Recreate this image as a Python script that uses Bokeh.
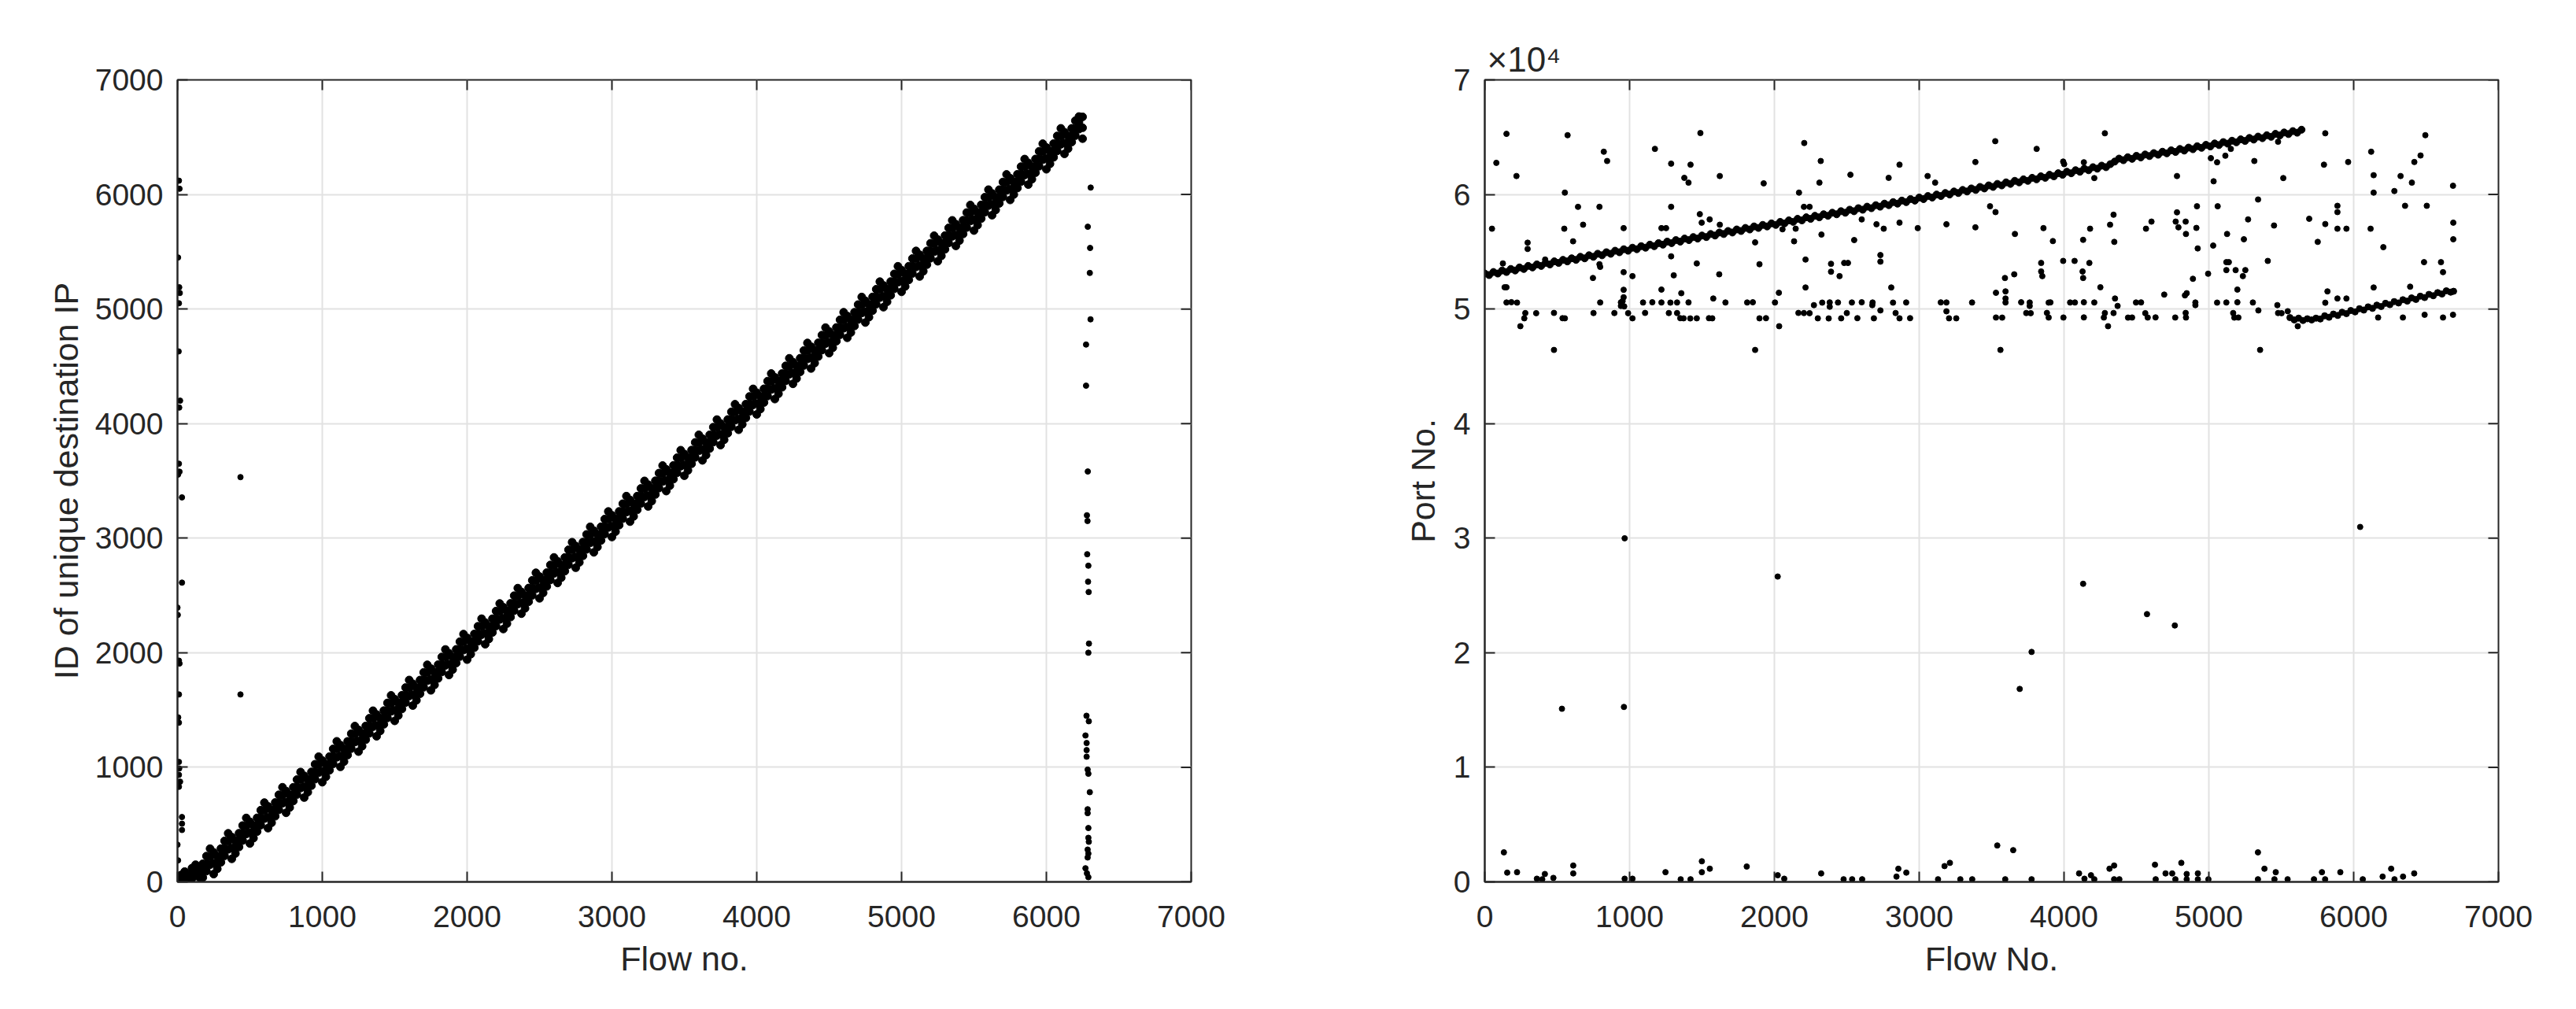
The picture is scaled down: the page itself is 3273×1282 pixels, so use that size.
import math
from bokeh.plotting import figure
from bokeh.layouts import row
from bokeh.models import Range1d, FixedTicker
from bokeh.embed import file_html
from bokeh.resources import INLINE

FONT = "Liberation Sans"
AX = "#262626"

# ---------------- data : left panel ----------------
x_ticks = [0, 1000, 2000, 3000, 4000, 5000, 6000, 7000]
ip_ticks = [0, 1000, 2000, 3000, 4000, 5000, 6000, 7000]

band_x = [25, 50, 75, 100, 125, 150, 175, 200, 225, 250, 275, 300, 325, 350, 375, 400, 425, 450, 475, 500,
          525, 550, 575, 600, 625, 650, 675, 700, 725, 750, 775, 800, 825, 850, 875, 900, 925, 950, 975, 1000,
          1025, 1050, 1075, 1100, 1125, 1150, 1175, 1200, 1225, 1250, 1275, 1300, 1325, 1350, 1375, 1400, 1425, 1450, 1475, 1500,
          1525, 1550, 1575, 1600, 1625, 1650, 1675, 1700, 1725, 1750, 1775, 1800, 1825, 1850, 1875, 1900, 1925, 1950, 1975, 2000,
          2025, 2050, 2075, 2100, 2125, 2150, 2175, 2200, 2225, 2250, 2275, 2300, 2325, 2350, 2375, 2400, 2425, 2450, 2475, 2500,
          2525, 2550, 2575, 2600, 2625, 2650, 2675, 2700, 2725, 2750, 2775, 2800, 2825, 2850, 2875, 2900, 2925, 2950, 2975, 3000,
          3025, 3050, 3075, 3100, 3125, 3150, 3175, 3200, 3225, 3250, 3275, 3300, 3325, 3350, 3375, 3400, 3425, 3450, 3475, 3500,
          3525, 3550, 3575, 3600, 3625, 3650, 3675, 3700, 3725, 3750, 3775, 3800, 3825, 3850, 3875, 3900, 3925, 3950, 3975, 4000,
          4025, 4050, 4075, 4100, 4125, 4150, 4175, 4200, 4225, 4250, 4275, 4300, 4325, 4350, 4375, 4400, 4425, 4450, 4475, 4500,
          4525, 4550, 4575, 4600, 4625, 4650, 4675, 4700, 4725, 4750, 4775, 4800, 4825, 4850, 4875, 4900, 4925, 4950, 4975, 5000,
          5025, 5050, 5075, 5100, 5125, 5150, 5175, 5200, 5225, 5250, 5275, 5300, 5325, 5350, 5375, 5400, 5425, 5450, 5475, 5500,
          5525, 5550, 5575, 5600, 5625, 5650, 5675, 5700, 5725, 5750, 5775, 5800, 5825, 5850, 5875, 5900, 5925, 5950, 5975, 6000,
          6025, 6050, 6075, 6100, 6125, 6150, 6175, 6200, 6225, 6250]

band_upper = [60, 90, 40, 120, 150, 120, 158, 225, 290, 258, 224, 291, 358, 424, 391, 358, 425, 492, 558, 525,
              492, 559, 626, 692, 659, 626, 693, 760, 826, 793, 759, 826, 893, 959, 926, 893, 960, 1027, 1093, 1060,
              1027, 1094, 1161, 1227, 1194, 1160, 1227, 1294, 1360, 1327, 1294, 1361, 1428, 1494, 1461, 1428, 1495, 1562, 1628, 1595,
              1562, 1629, 1696, 1762, 1729, 1695, 1762, 1829, 1895, 1862, 1829, 1896, 1963, 2029, 1996, 1963, 2030, 2097, 2163, 2130,
              2097, 2164, 2231, 2297, 2264, 2230, 2297, 2364, 2430, 2397, 2364, 2431, 2498, 2564, 2531, 2498, 2565, 2632, 2698, 2665,
              2632, 2699, 2766, 2832, 2799, 2765, 2832, 2899, 2965, 2932, 2899, 2966, 3033, 3099, 3066, 3033, 3100, 3167, 3233, 3200,
              3167, 3234, 3301, 3367, 3334, 3300, 3367, 3434, 3500, 3467, 3434, 3501, 3568, 3634, 3601, 3568, 3635, 3702, 3768, 3735,
              3702, 3769, 3836, 3902, 3869, 3835, 3902, 3969, 4035, 4002, 3969, 4036, 4103, 4169, 4136, 4103, 4170, 4237, 4303, 4270,
              4237, 4304, 4371, 4437, 4404, 4370, 4437, 4504, 4570, 4537, 4504, 4571, 4638, 4704, 4671, 4638, 4705, 4772, 4838, 4805,
              4772, 4839, 4906, 4972, 4939, 4905, 4972, 5039, 5105, 5072, 5039, 5106, 5173, 5239, 5206, 5173, 5240, 5307, 5373, 5340,
              5307, 5374, 5441, 5507, 5474, 5440, 5507, 5574, 5640, 5607, 5574, 5641, 5708, 5774, 5741, 5708, 5775, 5842, 5908, 5875,
              5842, 5909, 5976, 6042, 6009, 5975, 6042, 6109, 6175, 6142, 6109, 6176, 6243, 6309, 6276, 6243, 6310, 6377, 6443, 6410,
              6377, 6444, 6511, 6577, 6544, 6510, 6577, 6644, 6680, 6677]

band_mid = [35, 45, 30, 75, 105, 80, 98, 159, 220, 163, 169, 231, 292, 354, 296, 303, 365, 426, 488, 430,
            437, 499, 560, 622, 564, 571, 633, 694, 756, 698, 704, 766, 827, 889, 831, 838, 900, 961, 1023, 965,
            972, 1034, 1095, 1157, 1099, 1105, 1167, 1228, 1290, 1232, 1239, 1301, 1362, 1424, 1366, 1373, 1435, 1496, 1558, 1500,
            1507, 1569, 1630, 1692, 1634, 1640, 1702, 1763, 1825, 1767, 1774, 1836, 1897, 1959, 1901, 1908, 1970, 2031, 2093, 2035,
            2042, 2104, 2165, 2227, 2169, 2175, 2237, 2298, 2360, 2302, 2309, 2371, 2432, 2494, 2436, 2443, 2505, 2566, 2628, 2570,
            2577, 2639, 2700, 2762, 2704, 2710, 2772, 2833, 2895, 2837, 2844, 2906, 2967, 3029, 2971, 2978, 3040, 3101, 3163, 3105,
            3112, 3174, 3235, 3297, 3239, 3245, 3307, 3368, 3430, 3372, 3379, 3441, 3502, 3564, 3506, 3513, 3575, 3636, 3698, 3640,
            3647, 3709, 3770, 3832, 3774, 3780, 3842, 3903, 3965, 3907, 3914, 3976, 4037, 4099, 4041, 4048, 4110, 4171, 4233, 4175,
            4182, 4244, 4305, 4367, 4309, 4315, 4377, 4438, 4500, 4442, 4449, 4511, 4572, 4634, 4576, 4583, 4645, 4706, 4768, 4710,
            4717, 4779, 4840, 4902, 4844, 4850, 4912, 4973, 5035, 4977, 4984, 5046, 5107, 5169, 5111, 5118, 5180, 5241, 5303, 5245,
            5252, 5314, 5375, 5437, 5379, 5385, 5447, 5508, 5570, 5512, 5519, 5581, 5642, 5704, 5646, 5653, 5715, 5776, 5838, 5780,
            5787, 5849, 5910, 5972, 5914, 5920, 5982, 6043, 6105, 6047, 6054, 6116, 6177, 6239, 6181, 6188, 6250, 6311, 6373, 6315,
            6322, 6384, 6445, 6507, 6449, 6455, 6517, 6578, 6630, 6582]

band_lower = [10, 0, 20, 30, 60, 40, 38, 94, 150, 68, 114, 171, 227, 284, 201, 248, 305, 361, 418, 335,
              382, 439, 495, 552, 469, 516, 573, 629, 686, 603, 649, 706, 762, 819, 736, 783, 840, 896, 953, 870,
              917, 974, 1030, 1087, 1004, 1050, 1107, 1163, 1220, 1137, 1184, 1241, 1297, 1354, 1271, 1318, 1375, 1431, 1488, 1405,
              1452, 1509, 1565, 1622, 1539, 1585, 1642, 1698, 1755, 1672, 1719, 1776, 1832, 1889, 1806, 1853, 1910, 1966, 2023, 1940,
              1987, 2044, 2100, 2157, 2074, 2120, 2177, 2233, 2290, 2207, 2254, 2311, 2367, 2424, 2341, 2388, 2445, 2501, 2558, 2475,
              2522, 2579, 2635, 2692, 2609, 2655, 2712, 2768, 2825, 2742, 2789, 2846, 2902, 2959, 2876, 2923, 2980, 3036, 3093, 3010,
              3057, 3114, 3170, 3227, 3144, 3190, 3247, 3303, 3360, 3277, 3324, 3381, 3437, 3494, 3411, 3458, 3515, 3571, 3628, 3545,
              3592, 3649, 3705, 3762, 3679, 3725, 3782, 3838, 3895, 3812, 3859, 3916, 3972, 4029, 3946, 3993, 4050, 4106, 4163, 4080,
              4127, 4184, 4240, 4297, 4214, 4260, 4317, 4373, 4430, 4347, 4394, 4451, 4507, 4564, 4481, 4528, 4585, 4641, 4698, 4615,
              4662, 4719, 4775, 4832, 4749, 4795, 4852, 4908, 4965, 4882, 4929, 4986, 5042, 5099, 5016, 5063, 5120, 5176, 5233, 5150,
              5197, 5254, 5310, 5367, 5284, 5330, 5387, 5443, 5500, 5417, 5464, 5521, 5577, 5634, 5551, 5598, 5655, 5711, 5768, 5685,
              5732, 5789, 5845, 5902, 5819, 5865, 5922, 5978, 6035, 5952, 5999, 6056, 6112, 6169, 6086, 6133, 6190, 6246, 6303, 6220,
              6267, 6324, 6380, 6437, 6354, 6400, 6457, 6513, 6570, 6487]

ip_out_x = [10, 14, 4, 12, 16, 10, 8, 18, 12, 10, 14, 4, 31, 31, 0, 2, 10, 14, 10, 5, 10, 10, 12, 10, 18, 10,
            31, 31, 31, 0, 4, 435, 435,
            6306, 6286, 6302, 6300, 6305, 6274, 6274, 6286, 6280, 6284, 6282, 6290, 6288, 6292, 6294, 6290,
            6277, 6293, 6270, 6278, 6278, 6278, 6285, 6290, 6300, 6285, 6285, 6290, 6290, 6293, 6285, 6290, 6285,
            6270, 6280, 6290]
ip_out_y = [6120, 6050, 5450, 5190, 5140, 5050, 4630, 4200, 4140, 3650, 3580, 3555, 3356, 2612, 2394, 2330,
            1931, 1906, 1636, 1436, 1390, 1047, 990, 934, 875, 830, 566, 508, 453, 325, 188, 3533, 1636,
            6060, 5718, 5533, 5315, 4910, 4690, 4331, 3582, 3200, 3150, 2860, 2760, 2620, 2530, 2080, 2000,
            1450, 1402, 1278, 1212, 1150, 1093, 980, 944, 783, 634, 600, 470, 385, 350, 282, 247, 213,
            119, 75, 41]

# ---------------- data : right panel ----------------
port_ticks = [0, 10000, 20000, 30000, 40000, 50000, 60000, 70000]
port_tick_labels = ["0", "1", "2", "3", "4", "5", "6", "7"]

line1_x = [0, 30, 60, 90, 120, 150, 180, 210, 240, 270, 300, 330, 360, 390, 420, 450, 480, 510, 540, 570,
           600, 630, 660, 690, 720, 750, 780, 810, 840, 870, 900, 930, 960, 990, 1020, 1050, 1080, 1110, 1140, 1170,
           1200, 1230, 1260, 1290, 1320, 1350, 1380, 1410, 1440, 1470, 1500, 1530, 1560, 1590, 1620, 1650, 1680, 1710, 1740, 1770,
           1800, 1830, 1860, 1890, 1920, 1950, 1980, 2010, 2040, 2070, 2100, 2130, 2160, 2190, 2220, 2250, 2280, 2310, 2340, 2370,
           2400, 2430, 2460, 2490, 2520, 2550, 2580, 2610, 2640, 2670, 2700, 2730, 2760, 2790, 2820, 2850, 2880, 2910, 2940, 2970,
           3000, 3030, 3060, 3090, 3120, 3150, 3180, 3210, 3240, 3270, 3300, 3330, 3360, 3390, 3420, 3450, 3480, 3510, 3540, 3570,
           3600, 3630, 3660, 3690, 3720, 3750, 3780, 3810, 3840, 3870, 3900, 3930, 3960, 3990, 4020, 4050, 4080, 4110, 4140, 4170,
           4200, 4230, 4260, 4290, 4320, 4350, 4380, 4410, 4440, 4470, 4500, 4530, 4560, 4590, 4620, 4650, 4680, 4710, 4740, 4770,
           4800, 4830, 4860, 4890, 4920, 4950, 4980, 5010, 5040, 5070, 5100, 5130, 5160, 5190, 5220, 5250, 5280, 5310, 5340, 5370,
           5400, 5430, 5460, 5490, 5520, 5550, 5580, 5610, 5640]
line1_y = [53100, 52966, 53233, 53099, 53365, 53231, 53498, 53364, 53630, 53496, 53763, 53629, 53896, 53762, 54028, 53894,
           54161, 54027, 54293, 54159, 54426, 54292, 54559, 54425, 54691, 54557, 54824, 54690, 54956, 54822, 55089, 54955,
           55222, 55088, 55354, 55220, 55487, 55353, 55619, 55485, 55752, 55618, 55885, 55751, 56017, 55883, 56150, 56016,
           56282, 56148, 56415, 56281, 56548, 56414, 56680, 56546, 56813, 56679, 56945, 56811, 57078, 56944, 57211, 57077,
           57343, 57209, 57476, 57342, 57608, 57474, 57741, 57607, 57874, 57740, 58006, 57872, 58139, 58005, 58271, 58137,
           58404, 58270, 58537, 58403, 58669, 58535, 58802, 58668, 58934, 58800, 59067, 58933, 59200, 59066, 59332, 59198,
           59465, 59331, 59597, 59463, 59730, 59596, 59863, 59729, 59995, 59861, 60128, 59994, 60260, 60126, 60393, 60259,
           60526, 60392, 60658, 60524, 60791, 60657, 60923, 60789, 61056, 60922, 61189, 61055, 61321, 61187, 61454, 61320,
           61586, 61452, 61719, 61585, 61852, 61718, 61984, 61850, 62117, 61983, 62249, 62115, 62382, 62248, 62515, 62381,
           62647, 62870, 63130, 62990, 63250, 63110, 63370, 63230, 63490, 63350, 63610, 63470, 63730, 63590, 63850, 63710,
           63970, 63830, 64090, 63950, 64210, 64070, 64330, 64190, 64450, 64310, 64570, 64430, 64690, 64550, 64810, 64670,
           64930, 64790, 65050, 64910, 65170, 65030, 65290, 65150, 65410, 65270, 65530, 65390, 65650]

line2_x = [5560, 5590, 5620, 5650, 5680, 5710, 5740, 5770, 5800, 5830, 5860, 5890, 5920, 5950, 5980, 6010, 6040, 6070,
           6100, 6130, 6160, 6190, 6220, 6250, 6280, 6310, 6340, 6370, 6400, 6430, 6460, 6490, 6520, 6550, 6580, 6610,
           6640, 6670, 6690]
line2_y = [49250, 49050, 49200, 49000, 49150, 49050, 49200, 49130, 49410, 49280, 49560, 49440, 49720, 49600, 49870, 49750,
           50030, 49910, 50190, 50060, 50340, 50220, 50500, 50380, 50650, 50530, 50810, 50690, 50970, 50840, 51120, 51000,
           51280, 51160, 51430, 51310, 51590, 51470, 51550]

port_high_x = [150, 80, 219, 572, 822, 845, 1175, 1287, 1421, 1378, 1407, 1489, 1623, 1926, 2206, 2320, 2311, 2525, 2789,
               2864, 3058, 3110, 3388, 3525, 3811, 3994, 4001, 4137, 4209, 4282, 4780, 5014, 5057, 5033, 5114, 5152,
               5314, 5478, 5514, 5804, 5795, 5962, 6121, 6138, 6138, 6281, 6324, 6402, 6419, 6462, 6495, 6686]
port_high_y = [65290, 62760, 61610, 65170, 63730, 62920, 63980, 62690, 62600, 61450, 61030, 65360, 61610, 60970, 64490,
               62920, 61030, 61720, 61450, 62600, 61610, 61030, 62830, 64650, 63980, 62870, 62650, 62810, 61430, 65340,
               61610, 63170, 62810, 61150, 63380, 63980, 62920, 64600, 61430, 65340, 62600, 62830, 63730, 61680, 60160,
               60300, 61610, 61030, 62830, 63400, 65170, 60760]

port_mid_x = [50, 553, 644, 792, 679, 549, 610, 296, 296, 125, 417, 792, 797, 747, 137, 150, 959, 959, 1020, 959, 959,
              952, 963, 1220, 1252, 1287, 1287, 1305, 1220, 1357, 1485, 1498, 1553, 1623, 1464, 1619, 1867, 1897, 2031,
              2056, 2147, 2170, 2204, 2243, 2136, 2325, 2215, 2391, 2391, 2450, 2482, 2508, 2215, 2551, 2603, 2705, 2755,
              2732, 2732, 2807, 2864, 2990, 3188, 3388, 1578,
              3489, 3527, 3661, 3858, 3923, 4180, 4132, 4318, 4342, 4347, 4566, 4604, 4780, 4771, 4790, 4840, 4842, 4918,
              4914, 4923, 5061, 5030, 5126, 5242, 5271, 5340, 5450, 5693, 5752, 5804, 5888, 5888, 5888, 5950, 6117, 6205,
              6355, 6505, 6688, 6688, 5407, 6486, 6603, 6617, 3842, 3842, 3850, 3994, 4073, 4128, 4132, 4175, 3592, 3656,
              4251, 3530, 3596, 3596, 4692, 4847, 4835, 4890, 4995, 5121, 5138, 5121, 5185, 5252, 5235, 5197, 6138, 6390,
              5819, 5888, 5950, 5804, 5545]
port_mid_y = [57010, 60160, 58920, 58920, 57360, 57010, 55910, 55790, 55240, 53980, 54320, 53910, 53680, 52710, 51900,
              51900, 57060, 53220, 52870, 51680, 51030, 50690, 50230, 57060, 57060, 58920, 54600, 52940, 51700, 51380,
              58280, 57540, 57820, 57360, 53980, 53030, 55820, 53910, 51420, 56960, 57010, 60160, 58920, 58920, 55910,
              56500, 54320, 53950, 53260, 52870, 54020, 54020, 51880, 56020, 57820, 57400, 57010, 54710, 54140, 51880,
              57540, 57060, 57400, 57130, 50920,
              58970, 58460, 56550, 57060, 55930, 57010, 56040, 57360, 58230, 55860, 57010, 57630, 58440, 57630, 57130,
              57630, 56550, 58970, 57080, 55290, 58970, 55540, 56550, 56090, 57820, 59560, 57290, 57880, 55860, 57420,
              59010, 58460, 57010, 57010, 57010, 55400, 59010, 59010, 57540, 56090, 54200, 54090, 54090, 53220, 54020,
              53280, 52870, 54200, 54200, 53280, 52710, 54020, 52710, 53030, 51900, 51420, 51540, 50920, 51260, 51380,
              51190, 52640, 53080, 54090, 54090, 53400, 53400, 53400, 52870, 51700, 51880, 51950, 51540, 50920, 50920,
              50550, 49810]

port_row_x = [150, 184, 223, 797, 940, 1093, 1157, 1220, 1282, 1328, 1407, 1662, 1812, 1851, 2004, 2330, 2382, 2439,
              2535, 2603, 2678, 2819, 2910, 3149, 3188, 3365, 3596, 3704, 3763, 3894, 3906, 4042, 4075, 4137, 4209,
              4352, 4497, 4532, 4907, 5057, 5121, 5197, 5304, 5473,
              2273, 940, 2382, 2676, 3763, 4370, 4907,
              280, 355, 478, 751, 895, 990, 1107, 1271, 1328, 2166, 2204, 2243, 2500, 2732, 2837, 3188,
              3739, 3770, 3882, 4282, 4342, 4561, 4840, 5168, 5342, 5478, 5502, 6490, 6686,
              273, 537, 553, 1020, 1350, 1373, 1419, 1464, 1548, 1571, 1897, 1942, 2300, 2375, 2461, 2573, 2687, 2864,
              2937, 3206, 3256, 3530, 3573, 3894, 3996, 4137, 4275, 4442, 4470, 4578, 4632, 4768, 4842, 5176, 5204,
              6169, 6340, 6617,
              246, 2033, 4304, 5614, 478, 1867, 3561, 5354]
port_row_y = [50570, 50600, 50560, 50570, 50580, 50570, 50590, 50570, 50560, 50570, 50580, 50570, 50570, 50590, 50570,
              50560, 50580, 50570, 50570, 50590, 50570, 50560, 50570, 50580, 50570, 50570, 50570, 50590, 50570, 50560,
              50580, 50570, 50570, 50590, 50570, 50920, 50570, 50580, 50570, 50560, 50570, 50590, 50570, 50340,
              50340, 50270, 50200, 50340, 50270, 50270, 50340,
              49650, 49640, 49660, 49650, 49650, 49640, 49660, 49650, 49650, 49660, 49650, 49640, 49650, 49880, 49650,
              49800, 49650, 49640, 49660, 49650, 49650, 49640, 49660, 49650, 49880, 49650, 49640, 49500, 49500,
              49190, 49200, 49190, 49190, 49200, 49190, 49180, 49190, 49200, 49190, 49190, 49200, 49190, 49180, 49190,
              49200, 49190, 49190, 49200, 49190, 49190, 49260, 49250, 49260, 49260, 49270, 49260, 49250, 49260, 49260,
              49270, 49260, 49260, 49250, 49260, 49260, 49260, 49260,
              48500, 48500, 48500, 48500, 46430, 46430, 46430, 46430]

port_low_x = [966, 533, 961, 2023, 3694, 3776, 4132, 4573, 4765, 6045,
              132, 155, 223, 360, 397, 415, 474, 611, 611, 966, 1020, 1248, 1353, 1421, 1499, 1499, 1554, 1809, 2023,
              2068, 2323, 2478, 2537, 2606, 2856, 2843, 2911, 3130, 3175, 3212, 3284, 3366, 3539, 3649, 3594, 3776,
              4104, 4141, 4186, 4209, 4314, 4346, 4346, 4382, 4628, 4633, 4701, 4747, 4769, 4810, 4847, 4847, 4924,
              4924, 4997, 5339, 5339, 5384, 5462, 5453, 5544, 5726, 5781, 5803, 5908, 6063, 6200, 6259, 6282, 6341,
              6418]
port_low_y = [29990, 15110, 15270, 26650, 16840, 20070, 26020, 23370, 22380, 30980,
              2580, 810, 850, 280, 230, 690, 350, 1430, 740, 280, 280, 850, 230, 230, 1800, 850, 1150, 1340, 580,
              280, 740, 230, 230, 230, 1150, 460, 810, 230, 1380, 1660, 230, 230, 3180, 2770, 230, 230,
              740, 280, 580, 230, 1150, 1430, 230, 230, 1500, 230, 740, 740, 230, 1660, 690, 230, 740,
              230, 230, 2580, 230, 1150, 850, 230, 230, 230, 850, 230, 850, 230, 460, 1150, 230, 460,
              740]


def make_fig(ymax, yticks, xlabel, ylabel, border_left, border_right, overrides=None):
    xmax = x_ticks[-1]
    p = figure(frame_width=1288, frame_height=1019,
               x_range=Range1d(0, xmax), y_range=Range1d(0, ymax),
               min_border_left=border_left, min_border_right=border_right,
               min_border_top=101, min_border_bottom=160,
               output_backend="svg", toolbar_location=None,
               background_fill_color="white", border_fill_color="white")
    xt = FixedTicker(ticks=x_ticks)
    yt = FixedTicker(ticks=yticks)
    bottom, left = p.below[0], p.left[0]
    bottom.ticker = xt
    left.ticker = yt
    for ax in (bottom, left):
        ax.axis_line_color = AX
        ax.axis_line_width = 2
        ax.major_tick_line_color = AX
        ax.major_tick_line_width = 2
        ax.major_tick_in = 13
        ax.major_tick_out = 0
        ax.minor_tick_line_color = None
        ax.major_label_text_font = FONT
        ax.major_label_text_font_size = "39px"
        ax.major_label_text_color = AX
        ax.axis_label_text_font = FONT
        ax.axis_label_text_font_size = "43px"
        ax.axis_label_text_font_style = "normal"
        ax.axis_label_text_color = AX
    bottom.axis_label = xlabel
    left.axis_label = ylabel
    bottom.major_label_standoff = 30
    left.major_label_standoff = 18
    bottom.axis_label_standoff = 13
    left.axis_label_standoff = 10
    if overrides:
        left.major_label_overrides = overrides
    p.xgrid.ticker = xt
    p.ygrid.ticker = yt
    p.grid.grid_line_color = "#e2e2e2"
    p.grid.grid_line_width = 2
    p.outline_line_color = AX
    p.outline_line_width = 2
    # inward ticks on the top and right edges of the box (outer half is clipped by the frame)
    p.scatter(x_ticks, [ymax] * len(x_ticks), marker="dash", angle=math.pi / 2, size=26,
              line_color=AX, line_width=2)
    p.scatter([xmax] * len(yticks), yticks, marker="dash", angle=0, size=26,
              line_color=AX, line_width=2)
    return p


p1 = make_fig(ip_ticks[-1], ip_ticks, "Flow no.", "ID of unique destination IP", 225, 173)
for ys in (band_upper, band_mid, band_lower):
    p1.scatter(band_x, ys, size=10, color="black", marker="circle")
p1.scatter(ip_out_x, ip_out_y, size=7, color="black", marker="circle")

p2 = make_fig(port_ticks[-1], port_ticks, "Flow No.", "Port No.", 200, 80,
              overrides={t: s for t, s in zip(port_ticks, port_tick_labels)})
p2.left[0].axis_label_standoff = 12
p2.scatter(line1_x, line1_y, size=9, color="black", marker="circle")
p2.scatter(line2_x, line2_y, size=8, color="black", marker="circle")
p2.scatter(port_high_x, port_high_y, size=7, color="black", marker="circle")
p2.scatter(port_mid_x, port_mid_y, size=7, color="black", marker="circle")
p2.scatter(port_row_x, port_row_y, size=7, color="black", marker="circle")
p2.scatter(port_low_x, port_low_y, size=7, color="black", marker="circle")

p2.title.text = "×10⁴"
p2.title.align = "left"
p2.title.offset = 3
p2.title.standoff = 4
p2.title.text_font = FONT
p2.title.text_font_size = "44px"
p2.title.text_font_style = "normal"
p2.title.text_color = AX

layout = row(p1, p2)
open("out.html", "w").write(file_html(layout, INLINE))
